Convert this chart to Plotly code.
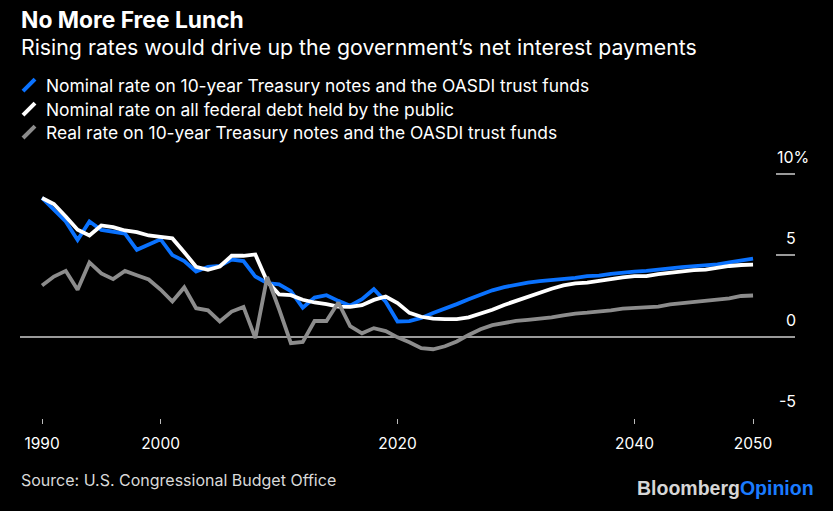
import plotly.graph_objects as go

years = list(range(1990, 2051))

nominal_10yr = [8.55, 7.86, 7.10, 5.95, 7.09, 6.57, 6.44, 6.35, 5.35, 5.65,
                6.00, 5.02, 4.65, 4.01, 4.30, 4.35, 4.75, 4.65, 3.70, 3.30,
                3.22, 2.80, 1.78, 2.40, 2.55, 2.20, 1.90, 2.30, 2.92, 2.15,
                0.93, 0.95, 1.15, 1.45, 1.70, 2.00, 2.30, 2.60, 2.85, 3.05,
                3.20, 3.33, 3.42, 3.47, 3.57, 3.62, 3.72, 3.75, 3.87, 3.95,
                4.00, 4.05, 4.10, 4.20, 4.28, 4.35, 4.42, 4.45, 4.58, 4.70,
                4.80]

nominal_debt = [8.54, 8.17, 7.40, 6.59, 6.23, 6.85, 6.75, 6.54, 6.44, 6.23,
                6.14, 6.05, 5.20, 4.30, 4.12, 4.32, 4.98, 4.98, 5.06, 3.40,
                2.60, 2.55, 2.27, 2.10, 2.00, 1.85, 1.83, 1.93, 2.26, 2.47,
                2.06, 1.46, 1.22, 1.10, 1.07, 1.08, 1.18, 1.40, 1.65, 1.95,
                2.20, 2.45, 2.72, 2.95, 3.15, 3.28, 3.33, 3.45, 3.55, 3.65,
                3.72, 3.73, 3.85, 3.95, 4.05, 4.10, 4.13, 4.25, 4.35, 4.41,
                4.43]

real_10yr = [3.15, 3.70, 4.05, 2.88, 4.57, 3.89, 3.54, 4.05, 3.78, 3.52,
             2.90, 2.16, 3.03, 1.75, 1.62, 0.93, 1.54, 1.83, -0.10, 3.67,
             1.70, -0.41, -0.33, 0.96, 0.96, 2.10, 0.64, 0.20, 0.52, 0.34,
             -0.05, -0.35, -0.72, -0.78, -0.60, -0.30, 0.10, 0.45, 0.70, 0.83,
             0.97, 1.03, 1.10, 1.18, 1.30, 1.42, 1.47, 1.52, 1.62, 1.72,
             1.77, 1.80, 1.85, 1.98, 2.05, 2.15, 2.20, 2.25, 2.35, 2.50,
             2.53]

series_names = ["Nominal rate on 10-year Treasury notes and the OASDI trust funds",
                "Nominal rate on all federal debt held by the public",
                "Real rate on 10-year Treasury notes and the OASDI trust funds"]
series_colors = ["#0a72ff", "#ffffff", "#8c8c8c"]

x_tickvals = [1990, 2000, 2020, 2040, 2050]
y_tickvals = [10, 5, 0, -5]
y_ticktext = ["10%", "5", "0", "-5"]

W, H = 833, 511
ML, MR, MT, MB = 20, 38, 150, 92.5
PW, PH = W - ML - MR, H - MT - MB
FONT = "Inter, Liberation Sans, Arial, sans-serif"


def px(x):
    return (x - ML) / PW


def py(y):
    return (H - MB - y) / PH


fig = go.Figure()
for vals, name, col in zip([nominal_10yr, nominal_debt, real_10yr], series_names, series_colors):
    fig.add_trace(go.Scatter(x=years, y=vals, mode="lines", name=name,
                             line=dict(color=col, width=3.8), showlegend=False))

annotations = [
    dict(text="<b>No More Free Lunch</b>", x=px(19), y=py(19), font=dict(size=22.8, color="#ffffff")),
    dict(text="Rising rates would drive up the government\u2019s net interest payments", x=px(19), y=py(47),
         font=dict(size=21.3, color="#ffffff")),
    dict(text="Source: U.S. Congressional Budget Office", x=px(19), y=py(481),
         font=dict(size=16, color="#d9d9d9")),
    dict(text="<b>Bloomberg</b><b><span style='color:#1a7bff'>Opinion</span></b>", x=px(816), y=py(489),
         xanchor="right", font=dict(size=19.5, color="#d6d6d6", family="Liberation Sans Narrow, Liberation Sans, Arial")),
]
shapes = []
legend_rows = [85, 109, 132]
for name, col, ry in zip(series_names, series_colors, legend_rows):
    annotations.append(dict(text=name, x=px(44), y=py(ry), font=dict(size=17.4, color="#ffffff")))
    shapes.append(dict(type="line", xref="paper", yref="paper", x0=px(23), y0=py(ry + 6),
                       x1=px(35), y1=py(ry - 6), line=dict(color=col, width=4)))

for v, t in zip(y_tickvals, y_ticktext):
    if t.endswith("%"):
        annotations.append(dict(text=t, xref="paper", yref="y", x=px(775), y=v, yshift=17, xanchor="left",
                                font=dict(size=16, color="#ffffff")))
    else:
        annotations.append(dict(text=t, xref="paper", yref="y", x=px(798), y=v, yshift=17, xanchor="right",
                                font=dict(size=16, color="#ffffff")))

for a in annotations:
    a.setdefault("xref", "paper")
    a.setdefault("yref", "paper")
    a.setdefault("xanchor", "left")
    a.setdefault("yanchor", "middle")
    a["showarrow"] = False

fig.update_layout(
    width=W, height=H,
    margin=dict(l=ML, r=MR, t=MT, b=MB),
    paper_bgcolor="#000000", plot_bgcolor="#000000",
    font=dict(family=FONT, color="#ffffff"),
    annotations=annotations, shapes=shapes,
    showlegend=False,
)
fig.update_xaxes(range=[1988.14, 2053.54], tickvals=x_tickvals, showgrid=False, zeroline=False,
                 showline=False, ticks="outside", ticklen=5, tickcolor="#bbbbbb", tickwidth=1,
                 ticklabelstandoff=6, tickfont=dict(size=15.5, color="#ffffff"))
fig.update_yaxes(range=[-5.02, 11.5], side="right", tickvals=y_tickvals, showticklabels=False,
                 ticks="inside", ticklen=19, tickcolor="#9a9a9a", tickwidth=1.5,
                 showgrid=False, zeroline=True, zerolinecolor="#9a9a9a", zerolinewidth=1.5,
                 showline=False)

fig.write_html("out.html")
